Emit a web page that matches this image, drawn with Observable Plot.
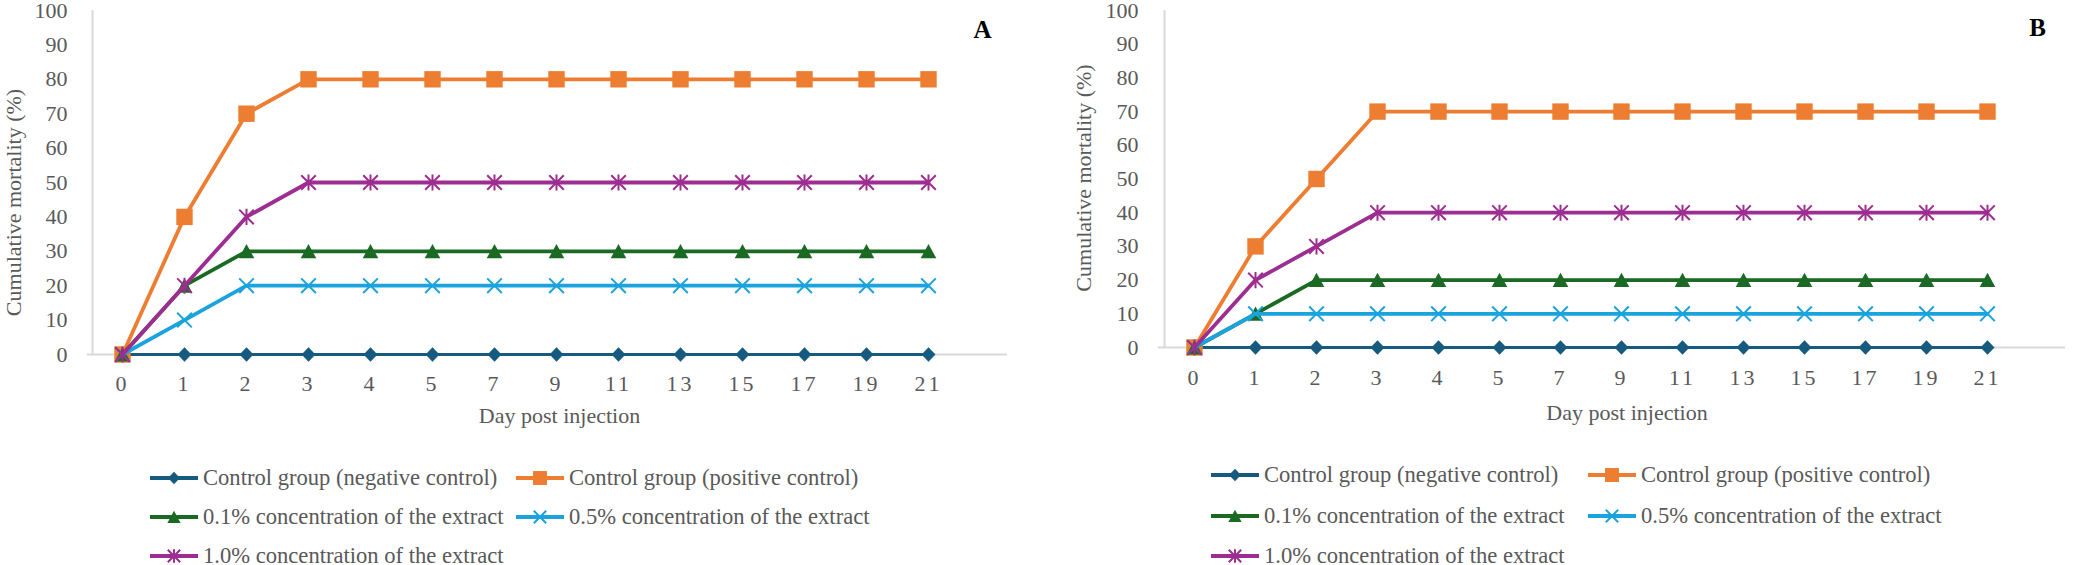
<!DOCTYPE html>
<html>
<head>
<meta charset="utf-8">
<script src="https://cdn.jsdelivr.net/npm/d3@7"></script>
<script src="https://cdn.jsdelivr.net/npm/@observablehq/plot@0.6"></script>
<style>
  html, body { margin: 0; padding: 0; background: #fff; }
  body { position: relative; width: 2077px; height: 565px; overflow: hidden;
         font-family: "Liberation Serif", "Times New Roman", serif; }
  .panel { position: absolute; top: 0; }
  .panel svg [aria-label="x-axis tick label"] text { letter-spacing: 3px; }
  .legend { position: absolute; display: grid; color: #595959; font-size: 22.6px; }
  .legend .item { display: flex; align-items: center; white-space: nowrap; }
  .legend svg { flex: none; margin-right: 5px; }
</style>
</head>
<body>
<div id="panelA" class="panel" style="left:0px"></div>
<div id="panelB" class="panel" style="left:1040px"></div>
<div id="legendA" class="legend" style="left:150px; top:458px; grid-template-columns:366px 366px; grid-auto-rows:39px;"></div>
<div id="legendB" class="legend" style="left:1211px; top:455px; grid-template-columns:377px 377px; grid-auto-rows:40.5px;"></div>
<script>
// Days post injection (categorical x axis, as labelled on the chart)
const days = ["0", "1", "2", "3", "4", "5", "7", "9", "11", "13", "15", "17", "19", "21"];
const yTicks = [0, 10, 20, 30, 40, 50, 60, 70, 80, 90, 100];

const seriesNames = [
  "Control group (negative control)",
  "Control group (positive control)",
  "0.1% concentration of the extract",
  "0.5% concentration of the extract",
  "1.0% concentration of the extract"
];

// Panel A: cumulative mortality (%)
const aNegative = [0, 0, 0, 0, 0, 0, 0, 0, 0, 0, 0, 0, 0, 0];
const aPositive = [0, 40, 70, 80, 80, 80, 80, 80, 80, 80, 80, 80, 80, 80];
const aConc01   = [0, 20, 30, 30, 30, 30, 30, 30, 30, 30, 30, 30, 30, 30];
const aConc05   = [0, 10, 20, 20, 20, 20, 20, 20, 20, 20, 20, 20, 20, 20];
const aConc10   = [0, 20, 40, 50, 50, 50, 50, 50, 50, 50, 50, 50, 50, 50];

// Panel B: cumulative mortality (%)
const bNegative = [0, 0, 0, 0, 0, 0, 0, 0, 0, 0, 0, 0, 0, 0];
const bPositive = [0, 30, 50, 70, 70, 70, 70, 70, 70, 70, 70, 70, 70, 70];
const bConc01   = [0, 10, 20, 20, 20, 20, 20, 20, 20, 20, 20, 20, 20, 20];
const bConc05   = [0, 10, 10, 10, 10, 10, 10, 10, 10, 10, 10, 10, 10, 10];
const bConc10   = [0, 20, 30, 40, 40, 40, 40, 40, 40, 40, 40, 40, 40, 40];

const colors = ["#175a7f", "#ed7d31", "#1b6a23", "#1aa3dc", "#9d2d90"];
const axisGray = "#d9d9d9";
const textGray = "#595959";
const fontFamily = '"Liberation Serif", "Times New Roman", serif';

// Marker shapes; the radius is recovered from the symbol size Plot passes in
const rad = (size) => Math.sqrt(size / Math.PI);
const symSquare = { draw(c, s) { const r = rad(s); c.rect(-r, -r, 2 * r, 2 * r); } };
const symDiamond = { draw(c, s) { const r = rad(s); c.moveTo(0, -r * 1.05); c.lineTo(r, 0); c.lineTo(0, r * 1.05); c.lineTo(-r, 0); c.closePath(); } };
const symTriangle = { draw(c, s) { const r = rad(s); c.moveTo(0, -r * 0.95); c.lineTo(r, r * 0.9); c.lineTo(-r, r * 0.9); c.closePath(); } };
const symTimes = { draw(c, s) { const r = rad(s); c.moveTo(-r, -r); c.lineTo(r, r); c.moveTo(r, -r); c.lineTo(-r, r); } };
const symStar = { draw(c, s) { const r = rad(s); c.moveTo(-r, -r); c.lineTo(r, r); c.moveTo(r, -r); c.lineTo(-r, r); c.moveTo(0, -r * 1.1); c.lineTo(0, r * 1.1); } };

const markers = [
  { symbol: symDiamond, r: 7, filled: true, width: 3 },
  { symbol: symSquare, r: 8.2, filled: true, width: 3.8 },
  { symbol: symTriangle, r: 7.8, filled: true, width: 3.8 },
  { symbol: symTimes, r: 7.3, filled: false, width: 3.8 },
  { symbol: symStar, r: 7.3, filled: false, width: 3.8 }
];

function tidy(seriesValues) {
  return seriesValues.flatMap((vals, i) =>
    vals.map((v, j) => ({ series: seriesNames[i], day: days[j], value: v })));
}

function drawPanel(el, seriesValues, cfg) {
  const rows = tidy(seriesValues);
  const marks = [
    Plot.ruleY([0], { stroke: axisGray, strokeWidth: 2 }),
    Plot.ruleX([days[0]], { dx: -cfg.insetLeft, stroke: axisGray, strokeWidth: 2 }),
    Plot.axisY({ ticks: yTicks, tickSize: 0, tickPadding: 20, label: null, fill: textGray }),
    Plot.axisX({ tickSize: 0, tickPadding: cfg.tickPadX, label: null, fill: textGray })
  ];
  seriesNames.forEach((name, i) => {
    const data = rows.filter((d) => d.series === name);
    const m = markers[i];
    marks.push(Plot.line(data, { x: "day", y: "value", stroke: colors[i], strokeWidth: m.width }));
    marks.push(Plot.dot(data, {
      x: "day", y: "value", symbol: m.symbol, r: m.r,
      fill: m.filled ? colors[i] : "none",
      stroke: m.filled ? "none" : colors[i],
      strokeWidth: m.filled ? 0 : 2
    }));
  });
  marks.push(
    Plot.text(["Cumulative mortality (%)"], {
      frameAnchor: "left", rotate: -90, dx: cfg.yTitleDx, dy: cfg.yTitleDy,
      textAnchor: "middle", lineAnchor: "middle", fill: textGray, fontSize: 22
    }),
    Plot.text(["Day post injection"], {
      frameAnchor: "bottom", dx: cfg.xTitleDx, dy: cfg.xTitleDy,
      textAnchor: "middle", lineAnchor: "middle", fill: textGray, fontSize: 22
    }),
    Plot.text([cfg.letter], {
      frameAnchor: "top-right", dx: cfg.letterDx, dy: cfg.letterDy,
      textAnchor: "middle", lineAnchor: "middle", fill: "#000", fontSize: 25, fontWeight: "bold"
    })
  );
  const chart = Plot.plot({
    width: cfg.width,
    height: 430,
    marginLeft: cfg.marginLeft,
    marginRight: cfg.marginRight,
    marginTop: cfg.marginTop,
    marginBottom: cfg.marginBottom,
    style: { background: "#fff", fontFamily, fontSize: "22px", color: textGray, overflow: "visible" },
    x: { type: "point", domain: days, padding: 0, insetLeft: cfg.insetLeft, insetRight: cfg.insetRight },
    y: { domain: [0, 100] },
    marks
  });
  el.appendChild(chart);
}

function drawLegend(el) {
  seriesNames.forEach((name, i) => {
    const item = document.createElement("div");
    item.className = "item";
    const svg = d3.create("svg").attr("width", 48).attr("height", 22);
    const m = markers[i];
    svg.append("line").attr("x1", 0).attr("x2", 48).attr("y1", 11).attr("y2", 11)
      .attr("stroke", colors[i]).attr("stroke-width", 4.2);
    const r = m.r * 0.85;
    svg.append("path")
      .attr("transform", "translate(24,11)")
      .attr("d", d3.symbol().type(m.symbol).size(r * r * Math.PI)())
      .attr("fill", m.filled ? colors[i] : "none")
      .attr("stroke", m.filled ? "none" : colors[i])
      .attr("stroke-width", m.filled ? 0 : 2);
    item.appendChild(svg.node());
    const label = document.createElement("span");
    label.textContent = name;
    item.appendChild(label);
    el.appendChild(item);
  });
}

drawPanel(document.getElementById("panelA"),
  [aNegative, aPositive, aConc01, aConc05, aConc10],
  { width: 1030, marginLeft: 87, marginRight: 23, marginTop: 10, marginBottom: 76,
    insetLeft: 30, insetRight: 75, tickPadX: 21,
    yTitleDx: -74, yTitleDy: 20, xTitleDx: 12, xTitleDy: 61,
    letter: "A", letterDx: -25, letterDy: 19 });

drawPanel(document.getElementById("panelB"),
  [bNegative, bPositive, bConc01, bConc05, bConc10],
  { width: 1037, marginLeft: 118, marginRight: 12, marginTop: 10, marginBottom: 83,
    insetLeft: 30, insetRight: 73, tickPadX: 22,
    yTitleDx: -75, yTitleDy: -1, xTitleDx: 15, xTitleDy: 65,
    letter: "B", letterDx: -28, letterDy: 17 });

drawLegend(document.getElementById("legendA"));
drawLegend(document.getElementById("legendB"));
</script>
</body>
</html>
